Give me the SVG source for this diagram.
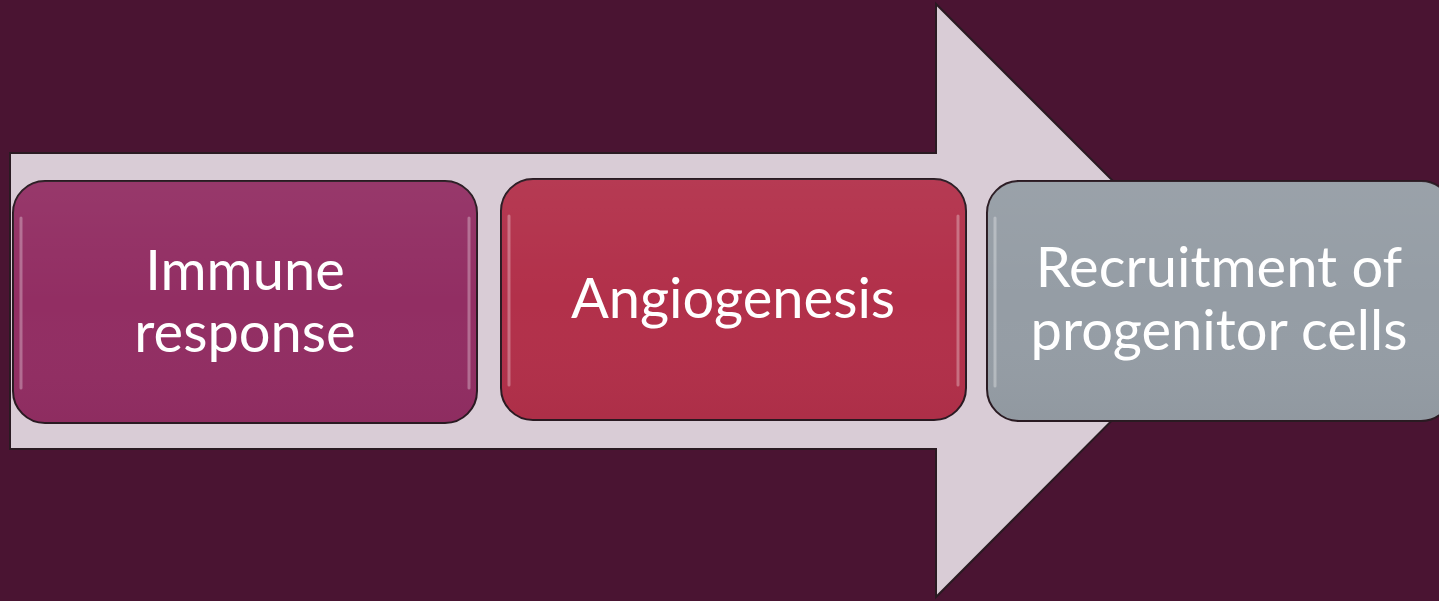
<svg xmlns="http://www.w3.org/2000/svg" width="1439" height="601" viewBox="0 0 1439 601">
<defs>
<style>
.box{stroke:#2a1a22;stroke-width:2}
.hl{fill:none;stroke:#ffffff;stroke-width:3;stroke-opacity:0.3;stroke-linecap:round}
.lbl{font-family:Lato,"Open Sans",sans-serif;font-size:56px;fill:#ffffff;text-anchor:middle}
</style>
<linearGradient id="gloss" x1="0" y1="0" x2="0" y2="1">
<stop offset="0" stop-color="#ffffff" stop-opacity="0.05"/>
<stop offset="0.5" stop-color="#ffffff" stop-opacity="0"/>
<stop offset="1" stop-color="#000000" stop-opacity="0.03"/>
</linearGradient>
</defs>
<rect x="0" y="0" width="1439" height="601" fill="#4a1432"/>
<g id="connectors">
<path d="M10,153 L936,153 L936,4 L1232,300 L936,597 L936,449 L10,449 Z" fill="#d9ccd6" stroke="#2a1a22" stroke-width="2"/>
</g>
<g id="node1">
<rect class="box" x="13" y="181" width="464" height="242" rx="32" fill="#922e63"/>
<rect x="13" y="181" width="464" height="242" rx="32" fill="url(#gloss)"/>
<path class="hl" d="M21,218 L21,388 M469,218 L469,388"/>
<text class="lbl" x="245" y="290">Immune</text>
<text class="lbl" x="245" y="352">response</text>
</g>
<g id="node2">
<rect class="box" x="501" y="179" width="465" height="241" rx="32" fill="#b2304a"/>
<rect x="501" y="179" width="465" height="241" rx="32" fill="url(#gloss)"/>
<path class="hl" d="M509,216 L509,385 M958,216 L958,385"/>
<text class="lbl" x="733" y="318">Angiogenesis</text>
</g>
<g id="node3">
<rect class="box" x="987" y="181" width="466" height="240" rx="32" fill="#959da5"/>
<rect x="987" y="181" width="466" height="240" rx="32" fill="url(#gloss)"/>
<path class="hl" d="M995,218 L995,386"/>
<text class="lbl" x="1219" y="287">Recruitment of</text>
<text class="lbl" x="1219" y="350">progenitor cells</text>
</g>
</svg>
